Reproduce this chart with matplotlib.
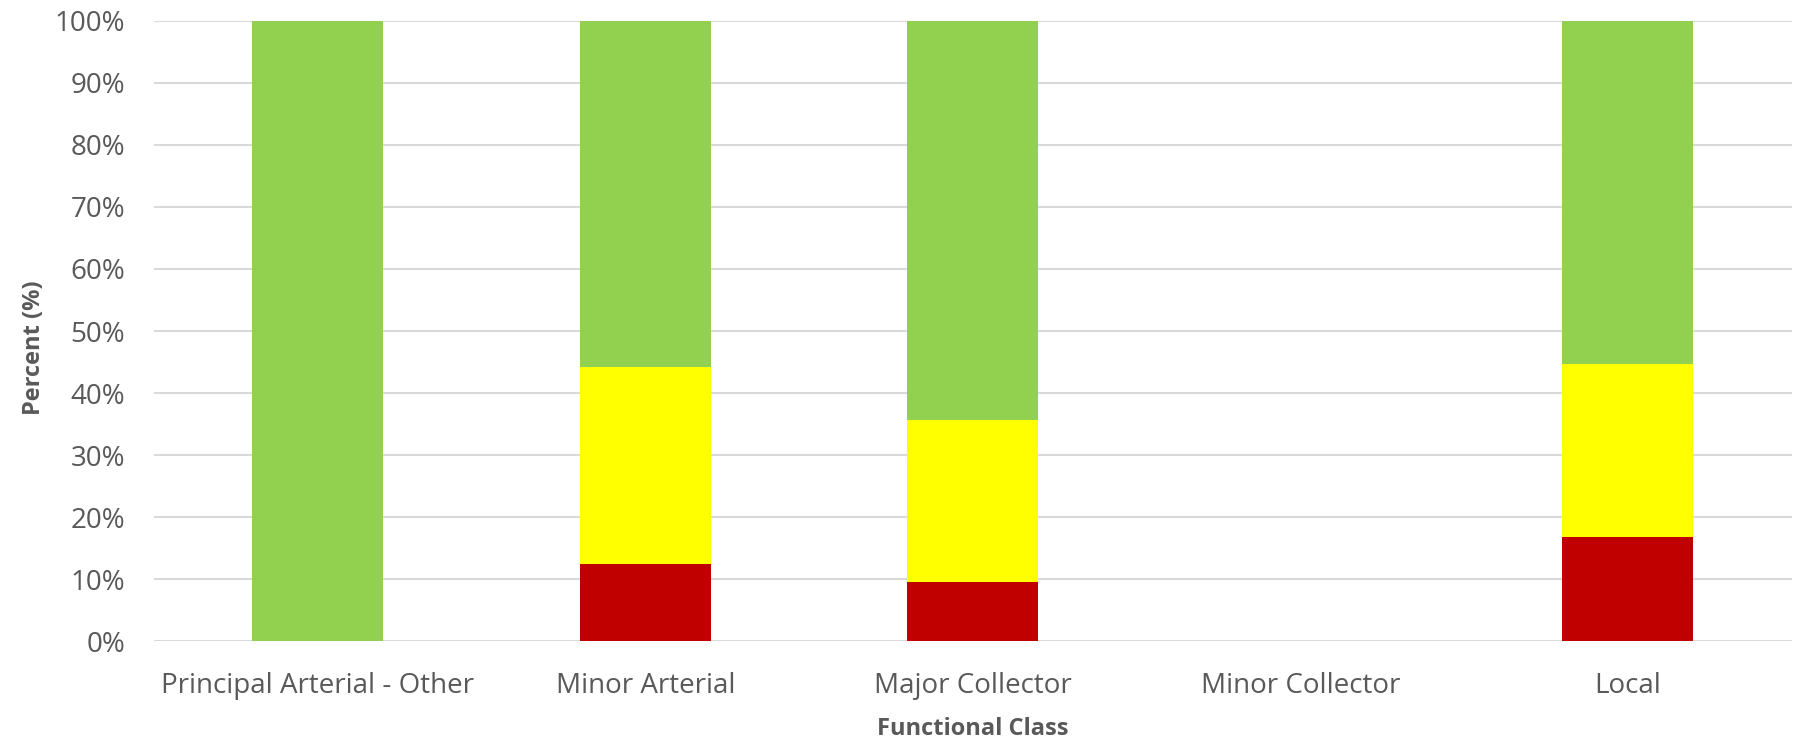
#!/usr/bin/env python3
# plot.py - stacked percent bars by functional class
import numpy as np
import matplotlib.pyplot as plt

categories = [
    "Principal Arterial - Other",
    "Minor Arterial",
    "Major Collector",
    "Minor Collector",
    "Local",
]
# percent of segments per class (bottom to top)
red_pct = [0.0, 12.5, 9.6, 0.0, 16.8]
yellow_pct = [0.0, 31.7, 26.0, 0.0, 27.9]
green_pct = [100.0, 55.8, 64.4, 0.0, 55.3]

yticks = list(range(0, 101, 10))
ytick_labels = [f"{v}%" for v in yticks]

GRAY = "#595959"
LABEL_FONT = ["Open Sans", "DejaVu Sans"]


def main():
    fig = plt.figure(figsize=(18, 7.46), dpi=100)
    ax = fig.add_axes([0.0856, 0.1401, 0.9097, 0.8322])

    x = np.arange(len(categories))
    red = np.array(red_pct)
    yellow = np.array(yellow_pct)
    green = np.array(green_pct)

    w = 0.4
    ax.bar(x, red, width=w, color="#c00000", zorder=3)
    ax.bar(x, yellow, width=w, bottom=red, color="#ffff00", zorder=3)
    ax.bar(x, green, width=w, bottom=red + yellow, color="#92d050", zorder=3)

    ax.set_xlim(-0.5, len(categories) - 0.5)
    ax.set_ylim(0, 100)
    ax.set_yticks(yticks)
    ax.set_yticklabels(ytick_labels)
    ax.set_xticks(x)
    ax.set_xticklabels(categories)

    ax.grid(axis="y", color="#d9d9d9", lw=1.5, zorder=0)
    ax.set_axisbelow(True)
    for s in ax.spines.values():
        s.set_visible(False)
    ax.tick_params(axis="both", length=0, labelsize=20, colors=GRAY,
                   labelfontfamily="Open Sans")
    ax.tick_params(axis="y", pad=21)
    ax.tick_params(axis="x", pad=22)

    ax.set_xlabel("Functional Class", fontsize=17, fontweight="bold",
                  color=GRAY, family=LABEL_FONT, labelpad=12)
    ax.set_ylabel("Percent (%)", fontsize=17, fontweight="bold",
                  color=GRAY, family=LABEL_FONT)
    ax.yaxis.set_label_coords(-0.066, 0.473)

    fig.savefig("out.png", dpi=100)
    plt.close(fig)


if __name__ == "__main__":
    main()
